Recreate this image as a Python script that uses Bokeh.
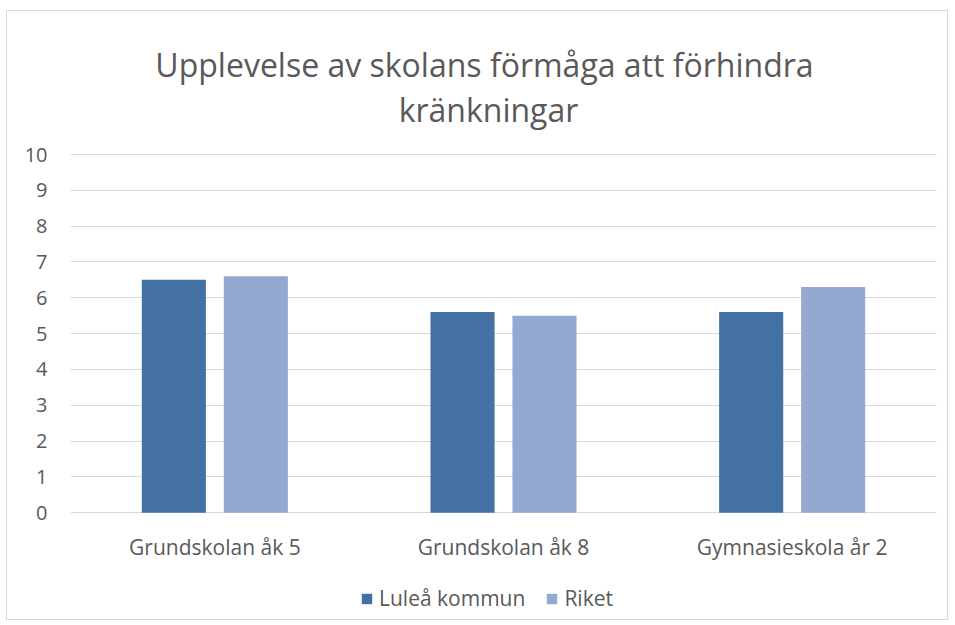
from bokeh.plotting import figure
from bokeh.models import ColumnDataSource, FactorRange, Range1d, FixedTicker, Legend, LegendItem
from bokeh.core.properties import value
from bokeh.transform import dodge
from bokeh.embed import file_html
from bokeh.resources import INLINE

categories = ["Grundskolan åk 5", "Grundskolan åk 8", "Gymnasieskola år 2"]
lulea = [6.5, 5.6, 5.6]
riket = [6.6, 5.5, 6.3]
series_names = ["Luleå kommun", "Riket"]
y_ticks = list(range(0, 11))
title_lines = ["Upplevelse av skolans förmåga att förhindra", "kränkningar"]

FONT = "Open Sans"
TXT = "#595959"

src = ColumnDataSource(dict(cat=categories, lulea=lulea, riket=riket))

# frame spans the whole card so the title, category labels and legend sit inside it;
# grid lines and tick labels are limited to 0..10
p = figure(width=942, height=610, x_range=FactorRange(*categories), y_range=Range1d(-2.9, 13.91),
           output_backend="svg", toolbar_location=None,
           min_border_left=63, min_border_right=13, min_border_top=3, min_border_bottom=5)
p.styles = {"margin-left": "6px", "margin-top": "10px", "border": "1px solid #d9d9d9",
            "box-sizing": "border-box"}

r1 = p.vbar(x=dodge("cat", -0.142, range=p.x_range), top="lulea", bottom=0, width=0.222,
            source=src, fill_color="#4471A4", line_color=None)
r2 = p.vbar(x=dodge("cat", 0.142, range=p.x_range), top="riket", bottom=0, width=0.222,
            source=src, fill_color="#94A9D1", line_color=None)

# category labels under the baseline
p.text(x="cat", y=-0.95, text="cat", source=src, text_align="center",
       text_baseline="alphabetic", text_font=value(FONT), text_font_size="21px",
       text_color=TXT)

# two-line chart title
p.text(x=[categories[1]], y=[12.513], text=[title_lines[0]], x_offset=-19,
       text_align="center", text_baseline="alphabetic", text_font=value(FONT),
       text_font_size="32px", text_color=TXT)
p.text(x=[categories[1]], y=[11.257], text=[title_lines[1]], x_offset=-15,
       text_align="center", text_baseline="alphabetic", text_font=value(FONT),
       text_font_size="32px", text_color=TXT)

p.outline_line_color = None
p.xgrid.grid_line_color = None
p.xaxis.visible = False
p.ygrid.grid_line_color = "#d9d9d9"
p.ygrid.grid_line_width = 1
p.yaxis.ticker = FixedTicker(ticks=y_ticks)
p.yaxis.axis_line_color = None
p.yaxis.major_tick_line_color = None
p.yaxis.minor_tick_line_color = None
p.yaxis.major_label_text_font = FONT
p.yaxis.major_label_text_font_size = "20px"
p.yaxis.major_label_text_color = TXT
p.yaxis.major_label_standoff = 17

legend = Legend(items=[LegendItem(label=series_names[0], renderers=[r1]),
                       LegendItem(label=series_names[1], renderers=[r2])],
                orientation="horizontal", location=(290, 4),
                label_text_font=FONT, label_text_font_size="21px", label_text_color=TXT,
                glyph_width=13, glyph_height=13, spacing=20, label_standoff=6,
                border_line_color=None, background_fill_alpha=0, margin=0, padding=2)
p.add_layout(legend, "center")

open("out.html", "w").write(file_html(p, INLINE))
